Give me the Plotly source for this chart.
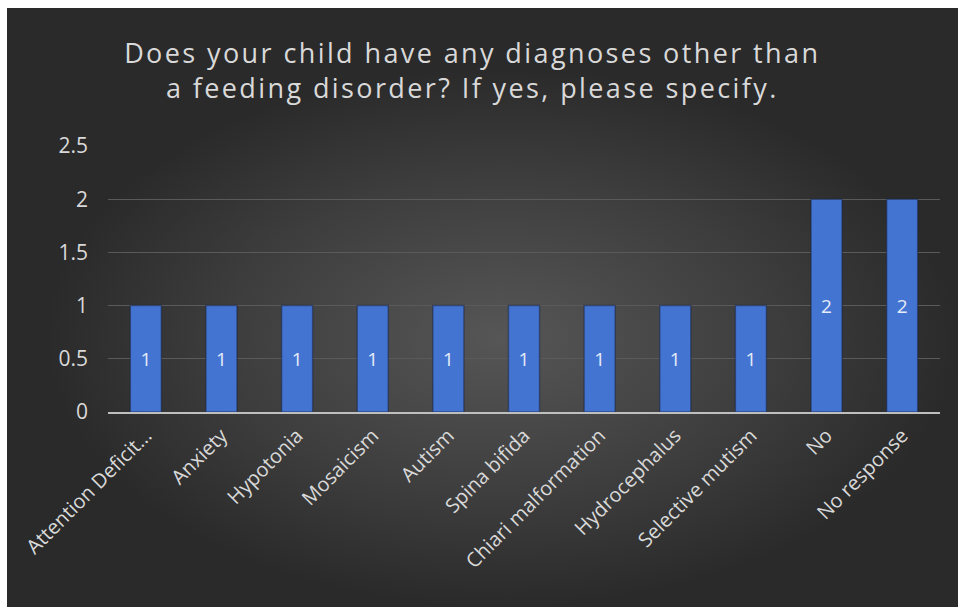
import plotly.graph_objects as go

# Survey responses: other diagnoses reported besides a feeding disorder
categories = [
    "Attention Deficit...", "Anxiety", "Hypotonia", "Mosaicism", "Autism",
    "Spina bifida", "Chiari malformation", "Hydrocephalus", "Selective mutism",
    "No", "No response",
]
counts = [1, 1, 1, 1, 1, 1, 1, 1, 1, 2, 2]
y_ticks = [0, 0.5, 1, 1.5, 2, 2.5]
y_tick_text = ["0", "0.5", "1", "1.5", "2", "2.5"]

title_lines = [
    "Does your child have any diagnoses other than",
    "a feeding disorder? If yes, please specify.",
]

FONT = "Open Sans, DejaVu Sans, sans-serif"
LABEL_GRAY = "#d9d9d9"

title_text = "<br>".join(
    '<span style="letter-spacing:2.4px">' + line + "</span>" for line in title_lines
)

fig = go.Figure(
    go.Bar(
        x=categories,
        y=counts,
        text=[str(v) for v in counts],
        textposition="inside",
        insidetextanchor="middle",
        textangle=0,
        textfont=dict(family=FONT, size=19, color="#e6ecf7"),
        marker=dict(color="#4474d2", line=dict(color="rgba(20,30,60,0.45)", width=1.5)),
        hoverinfo="x+y",
    )
)

fig.update_layout(
    width=958,
    height=607,
    margin=dict(l=108, r=18, t=146, b=195),
    paper_bgcolor="rgba(0,0,0,0)",
    plot_bgcolor="rgba(0,0,0,0)",
    bargap=0.59,
    showlegend=False,
    title=dict(
        text=title_text,
        font=dict(family=FONT, size=27, color=LABEL_GRAY),
        xref="container", x=0.493, xanchor="center",
        yref="container", y=0.896, yanchor="middle",
    ),
    xaxis=dict(
        tickangle=-45,
        tickfont=dict(family=FONT, size=20, color=LABEL_GRAY),
        showline=True, linecolor="#bfbfbf", linewidth=2,
        showgrid=False, ticks="", zeroline=False,
        ticklabelstandoff=2,
    ),
    yaxis=dict(
        range=[0, 2.5],
        tickvals=y_ticks,
        ticktext=y_tick_text,
        tickfont=dict(family=FONT, size=21, color=LABEL_GRAY),
        showgrid=True, gridcolor="#5a5a5a", gridwidth=1,
        zeroline=False, showline=False, ticks="",
        ticklabelstandoff=19,
    ),
)

# Dark radial backdrop behind the chart, inset by a thin white border
post = """
var gd = document.getElementById('{plot_id}');
document.body.style.margin = '0';
document.body.style.background = '#ffffff';
gd.style.background = 'radial-gradient(closest-side ellipse at 52% 55%, #565656 0%, #3d3d3d 60%, #2a2a2a 100%) 7px 8px / calc(100% - 7px) calc(100% - 8px) no-repeat, #ffffff';
"""

fig.write_html("out.html", post_script=post)
